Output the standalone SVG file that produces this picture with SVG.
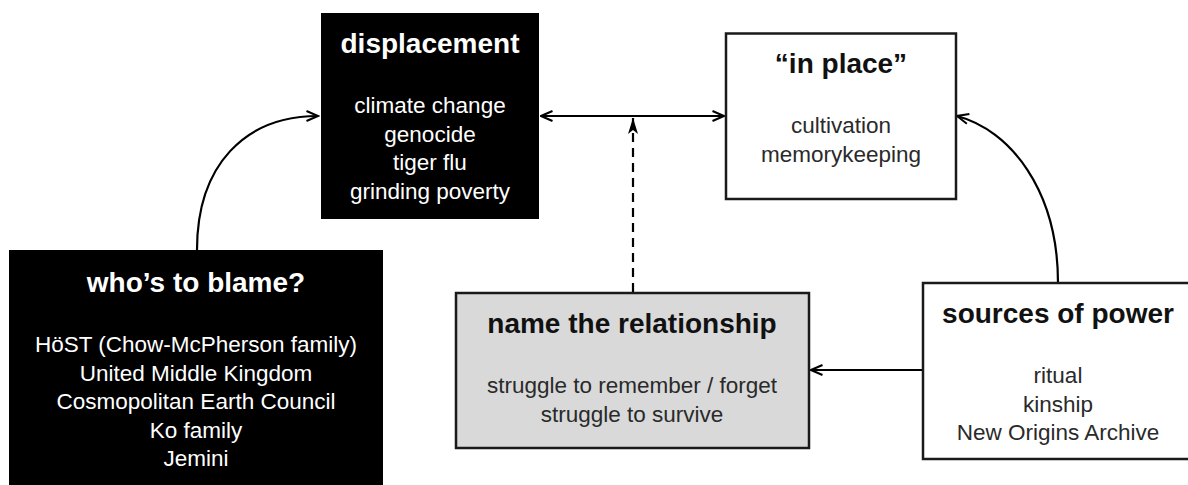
<svg xmlns="http://www.w3.org/2000/svg" width="1188" height="485" viewBox="0 0 1188 485">
<style>
.title{font-family:"Liberation Sans",Arial,sans-serif;font-weight:bold;font-size:28px;text-anchor:middle}
.body{font-family:"Liberation Sans",Arial,sans-serif;font-size:22.5px;text-anchor:middle}
.dark{fill:#000}
.light{fill:#fff;stroke:#1a1a1a;stroke-width:2.5}
.gray{fill:#d9d9d9;stroke:#1a1a1a;stroke-width:2.5}
.wt{fill:#fff}
.bt{fill:#111}
.bb{fill:#2a2a2a}
.edge{fill:none;stroke:#000;stroke-width:2.2}
</style>
<defs>
<marker id="open" viewBox="0 0 14 12" refX="12.5" refY="6" markerWidth="14" markerHeight="12" markerUnits="userSpaceOnUse" orient="auto-start-reverse">
<path d="M1,1 L12.5,6 L1,11" fill="none" stroke="#000" stroke-width="2"/>
</marker>
<marker id="stealth" viewBox="0 0 16 12" refX="16" refY="6" markerWidth="16" markerHeight="12" markerUnits="userSpaceOnUse" orient="auto">
<path d="M0,1 L16,6 L0,11 L4,6 Z" fill="#000"/>
</marker>
</defs>
<g id="connectors">
<path class="edge" d="M197,250 C197,165 245,116 318,116" marker-end="url(#open)"/>
<path class="edge" d="M541,116 L724,116" marker-start="url(#open)" marker-end="url(#open)"/>
<path class="edge" d="M633,292 L633,118" stroke-dasharray="9 6" marker-end="url(#stealth)"/>
<path class="edge" d="M1058,283 C1058,190 1010,130 957,116" marker-end="url(#open)"/>
<path class="edge" d="M923,370 L811,370" marker-end="url(#open)"/>
</g>
<g id="displacement">
<rect class="dark" x="321" y="13" width="218" height="206"/>
<text class="title wt" x="430" y="53">displacement</text>
<text class="body wt" x="430" y="113">climate change</text>
<text class="body wt" x="430" y="141.5">genocide</text>
<text class="body wt" x="430" y="170">tiger flu</text>
<text class="body wt" x="430" y="198.5">grinding poverty</text>
</g>
<g id="in-place">
<rect class="light" x="726" y="33.5" width="230" height="165.5"/>
<text class="title bt" x="841" y="73">“in place”</text>
<text class="body bb" x="841" y="133">cultivation</text>
<text class="body bb" x="841" y="162">memorykeeping</text>
</g>
<g id="who-to-blame">
<rect class="dark" x="9" y="250" width="374" height="240"/>
<text class="title wt" x="196" y="292">who’s to blame?</text>
<text class="body wt" x="196" y="352">HöST (Chow-McPherson family)</text>
<text class="body wt" x="196" y="380.5">United Middle Kingdom</text>
<text class="body wt" x="196" y="409">Cosmopolitan Earth Council</text>
<text class="body wt" x="196" y="437.5">Ko family</text>
<text class="body wt" x="196" y="466">Jemini</text>
</g>
<g id="name-the-relationship">
<rect class="gray" x="456" y="293" width="353" height="155"/>
<text class="title bt" x="632" y="333">name the relationship</text>
<text class="body bb" x="632" y="393">struggle to remember / forget</text>
<text class="body bb" x="632" y="422">struggle to survive</text>
</g>
<g id="sources-of-power">
<rect class="light" x="923" y="283" width="272" height="176"/>
<text class="title bt" x="1058" y="323">sources of power</text>
<text class="body bb" x="1058" y="383">ritual</text>
<text class="body bb" x="1058" y="412">kinship</text>
<text class="body bb" x="1058" y="440">New Origins Archive</text>
</g>
</svg>
